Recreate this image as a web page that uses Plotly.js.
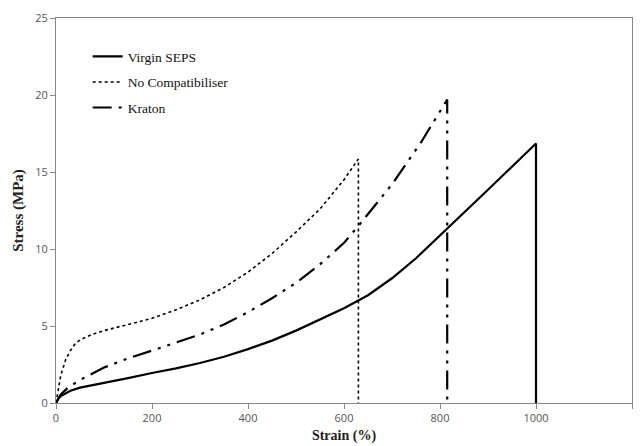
<!DOCTYPE html>
<html><head><meta charset="utf-8">
<script src="https://cdn.plot.ly/plotly-3.0.1.min.js"></script>
<style>html,body{margin:0;padding:0;background:#fff}</style>
</head><body><div id="chart" style="width:644px;height:446px"></div>
<script>
const virginX = [0, 5, 10, 20, 30, 50, 75, 100, 150, 200, 250, 300, 350, 400, 450, 500, 550, 600, 650, 700, 750, 815, 900, 1000, 1000];
const virginY = [0, 0.3, 0.45, 0.65, 0.8, 1.0, 1.15, 1.3, 1.62, 1.95, 2.25, 2.6, 3.0, 3.5, 4.05, 4.7, 5.4, 6.15, 7.0, 8.1, 9.4, 11.3, 13.85, 16.85, 0];
const noCompX = [0, 5, 10, 20, 30, 40, 50, 75, 100, 150, 200, 250, 300, 350, 400, 450, 500, 550, 600, 630, 630];
const noCompY = [0, 1.0, 1.8, 2.8, 3.4, 3.85, 4.1, 4.45, 4.7, 5.1, 5.5, 6.05, 6.7, 7.5, 8.5, 9.7, 11.1, 12.6, 14.5, 15.85, 0];
const kratonX = [0, 10, 25, 50, 100, 150, 200, 250, 300, 350, 400, 450, 500, 550, 600, 630, 700, 760, 815, 815];
const kratonY = [0, 0.55, 1.0, 1.5, 2.3, 2.9, 3.4, 3.9, 4.45, 5.1, 5.9, 6.8, 7.8, 9.0, 10.4, 11.5, 14.2, 16.9, 19.7, 0];
const seriesNames = ["Virgin SEPS", "No Compatibiliser", "Kraton"];

const traces = [
  {x: virginX, y: virginY, name: seriesNames[0], mode: 'lines', legendgroup: 'a',
   line: {color: '#000', width: 2.2}},
  {x: noCompX, y: noCompY, name: seriesNames[1], mode: 'lines', legendgroup: 'b',
   line: {color: '#000', width: 1.6, dash: 'dot'}},
  {x: kratonX, y: kratonY, name: seriesNames[2], mode: 'lines', legendgroup: 'c',
   line: {color: '#000', width: 2.2, dash: '19px,7px,3px,7px,3px,7px'}}
];

const layout = {
  width: 644, height: 446,
  margin: {l: 56, r: 12, t: 18, b: 43},
  paper_bgcolor: '#fff', plot_bgcolor: '#fff',
  showlegend: true,
  legend: {x: 0.055, y: 0.94, xanchor: 'left', yanchor: 'top', traceorder: 'grouped', tracegroupgap: 5,
           font: {family: 'Liberation Serif', size: 13.5, color: '#111'}, bgcolor: 'rgba(0,0,0,0)'},
  xaxis: {range: [0, 1200], dtick: 200, tick0: 0, showgrid: false, zeroline: false,
          showline: true, linecolor: '#888', linewidth: 1, mirror: true,
          ticks: 'outside', ticklen: 5, tickcolor: '#888',
          tickfont: {family: 'Open Sans', size: 11, color: '#555'},
          title: {text: '<b>Strain (%)</b>', standoff: 5, font: {family: 'Liberation Serif', size: 14, color: '#222'}}},
  yaxis: {range: [0, 25], dtick: 5, tick0: 0, showgrid: false, zeroline: false,
          showline: true, linecolor: '#888', linewidth: 1, mirror: true,
          ticks: 'outside', ticklen: 5, tickcolor: '#888',
          tickfont: {family: 'Open Sans', size: 11, color: '#555'},
          title: {text: '<b>Stress (MPa)</b>', standoff: 7, font: {family: 'Liberation Serif', size: 15, color: '#222'}}}
};
Plotly.newPlot('chart', traces, layout, {staticPlot: true, displayModeBar: false});
</script></body></html>
